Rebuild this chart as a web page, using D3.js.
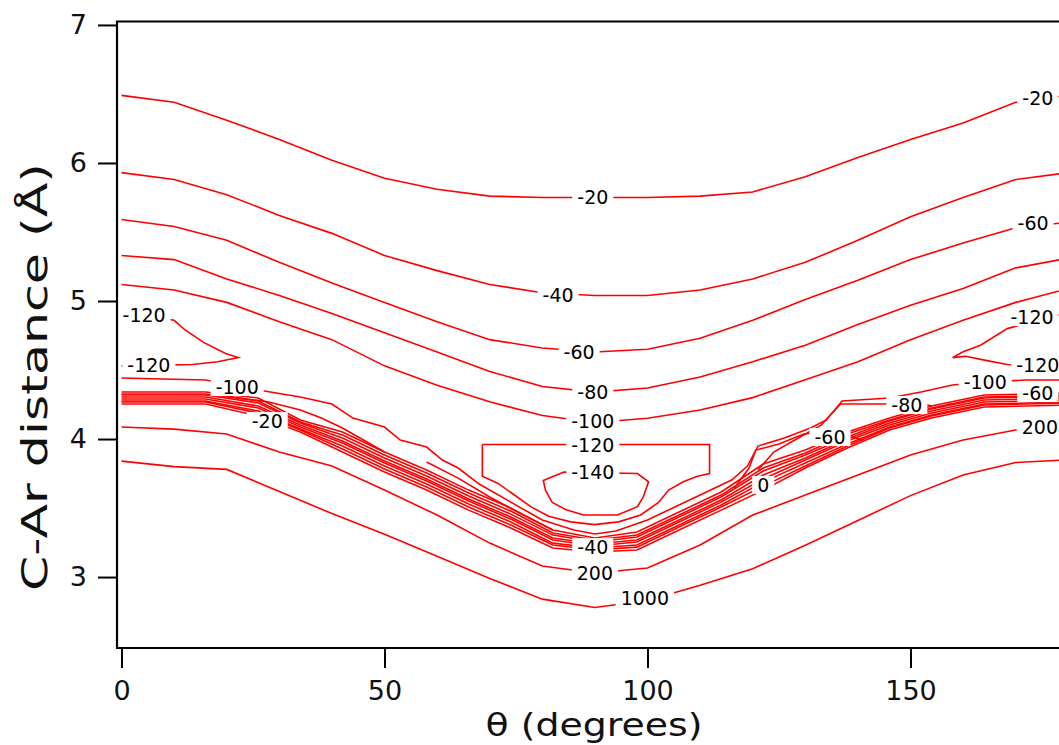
<!DOCTYPE html>
<html>
<head>
<meta charset="utf-8">
<script src="https://cdn.jsdelivr.net/npm/d3@7"></script>
<style>
  html, body { margin: 0; padding: 0; background: #fff; }
  svg { display: block; }
  text { font-family: "DejaVu Sans", sans-serif; }
</style>
</head>
<body>
<svg id="chart" width="1059" height="745"></svg>
<script>
// --- contour data, theta in degrees, r in angstrom ---
const contourTheta = [0, 10, 20, 30, 40, 50, 60, 70, 80, 90, 100, 110, 120, 130, 140, 150, 160, 170, 180];
const rMinus20  = [6.49, 6.44, 6.31, 6.17, 6.02, 5.89, 5.81, 5.76, 5.75, 5.75, 5.75, 5.76, 5.79, 5.90, 6.04, 6.17, 6.29, 6.44, 6.49];
const rMinus40  = [5.93, 5.88, 5.77, 5.62, 5.49, 5.33, 5.22, 5.12, 5.06, 5.04, 5.04, 5.08, 5.16, 5.28, 5.44, 5.61, 5.75, 5.88, 5.93];
const rMinus60  = [5.59, 5.54, 5.44, 5.28, 5.13, 4.99, 4.85, 4.72, 4.66, 4.63, 4.65, 4.73, 4.86, 5.01, 5.15, 5.30, 5.42, 5.53, 5.57];
const rMinus80  = [5.33, 5.30, 5.16, 5.04, 4.91, 4.77, 4.63, 4.49, 4.38, 4.34, 4.37, 4.45, 4.56, 4.68, 4.83, 4.97, 5.09, 5.24, 5.31];
const rMinus100 = [5.12, 5.08, 4.99, 4.85, 4.72, 4.53, 4.39, 4.27, 4.17, 4.12, 4.15, 4.21, 4.30, 4.43, 4.56, 4.72, 4.86, 4.99, 5.09];
const r200      = [4.087, 4.072, 4.036, 3.906, 3.804, 3.630, 3.449, 3.246, 3.080, 3.029, 3.065, 3.232, 3.449, 3.594, 3.739, 3.884, 3.993, 4.065, 4.087];
const r1000     = [3.84, 3.80, 3.78, 3.62, 3.46, 3.31, 3.15, 2.99, 2.84, 2.78, 2.83, 2.94, 3.06, 3.23, 3.41, 3.59, 3.74, 3.83, 3.85];

// dense band of contours along the repulsive wall (-80 ... 100)
const bandTheta = [0, 16, 26, 34, 42, 50, 58, 66, 74, 82, 90, 98, 106, 114, 122, 130, 138, 146, 154, 164, 180];
const band1 = [4.341, 4.341, 4.297, 4.138, 4.051, 3.906, 3.775, 3.630, 3.500, 3.341, 3.283, 3.326, 3.471, 3.616, 3.819, 3.920, 4.051, 4.152, 4.239, 4.319, 4.333];
const band2 = [4.326, 4.326, 4.275, 4.123, 4.029, 3.884, 3.754, 3.609, 3.478, 3.319, 3.268, 3.304, 3.449, 3.594, 3.790, 3.899, 4.036, 4.138, 4.225, 4.304, 4.319];
const band3 = [4.319, 4.319, 4.261, 4.116, 4.007, 3.862, 3.732, 3.587, 3.456, 3.304, 3.254, 3.290, 3.435, 3.580, 3.768, 3.884, 4.014, 4.130, 4.217, 4.297, 4.312];
const band4 = [4.304, 4.304, 4.239, 4.101, 3.986, 3.841, 3.710, 3.565, 3.435, 3.283, 3.239, 3.268, 3.413, 3.558, 3.739, 3.862, 4.000, 4.116, 4.203, 4.283, 4.297];
const band5 = [4.290, 4.290, 4.225, 4.087, 3.971, 3.826, 3.696, 3.551, 3.420, 3.268, 3.225, 3.254, 3.399, 3.543, 3.710, 3.848, 3.986, 4.101, 4.188, 4.268, 4.283];
const band6 = [4.275, 4.275, 4.203, 4.072, 3.949, 3.804, 3.674, 3.529, 3.399, 3.246, 3.210, 3.232, 3.377, 3.522, 3.688, 3.826, 3.964, 4.087, 4.174, 4.254, 4.268];
const band7 = [4.268, 4.268, 4.188, 4.065, 3.928, 3.783, 3.652, 3.507, 3.377, 3.232, 3.196, 3.217, 3.362, 3.507, 3.659, 3.804, 3.949, 4.080, 4.167, 4.246, 4.261];
const band8 = [4.254, 4.254, 4.167, 4.051, 3.906, 3.761, 3.630, 3.485, 3.355, 3.210, 3.181, 3.196, 3.341, 3.485, 3.630, 3.790, 3.935, 4.065, 4.152, 4.232, 4.246];

// irregular contours as [theta, r] pairs
const minus100Lower = [[0, 4.442], [16, 4.428], [26, 4.355], [34, 4.304], [40, 4.254], [44, 4.152], [50, 4.087], [53, 3.993],
  [58, 3.942], [61, 3.848], [64, 3.790], [68, 3.674], [74, 3.543], [80, 3.413], [86, 3.341], [90, 3.312], [94, 3.333],
  [100, 3.413], [106, 3.522], [112, 3.630], [116, 3.703], [119, 3.804], [121, 3.949], [126, 4.007], [131, 4.080],
  [134, 4.138], [137, 4.275], [140, 4.283], [146, 4.297], [152, 4.341], [158, 4.391], [164, 4.413], [172, 4.428], [180, 4.428]];
const fanLeftA = [[20, 4.312], [28, 4.268], [34, 4.210], [38, 4.152], [42, 4.080], [46, 3.993], [50, 3.906]];
const fanLeftB = [[58, 3.833], [64, 3.717], [70, 3.580], [76, 3.456], [82, 3.341]];
const fanRightQ = [[121, 3.775], [124, 3.906], [128, 3.993], [133, 4.101], [136.7, 4.254], [145, 4.254], [150, 4.275], [154, 4.239]];
const fanRightP = [[116.5, 3.645], [119.3, 3.790], [120.6, 3.920], [125, 3.964], [129.7, 4.036], [133, 4.051], [138, 4.022], [141, 3.993]];
const wedgeLeft = [[0, 4.92], [10, 4.86], [12.1, 4.79], [15.6, 4.70], [19.8, 4.62], [22.2, 4.59], [18.3, 4.56], [13.5, 4.54], [0, 4.53]];
const wedgeRight = [[180, 4.92], [168.4, 4.80], [163.3, 4.68], [159.9, 4.63], [158.0, 4.59], [160.5, 4.60], [164.3, 4.57], [168.4, 4.54], [180, 4.53]];
const loopMinus120 = [[68.6, 3.96], [68.6, 3.73], [71.5, 3.68], [74.5, 3.60], [77.8, 3.51], [81.2, 3.44], [85.4, 3.40], [89.9, 3.38],
  [94.5, 3.40], [98.7, 3.45], [102.1, 3.54], [104.0, 3.63], [106.8, 3.69], [109.5, 3.73], [111.8, 3.75], [111.8, 3.96], [68.6, 3.96]];
const loopMinus140 = [[84.0, 3.76], [80.2, 3.70], [80.6, 3.63], [81.9, 3.54], [84.4, 3.49], [87.8, 3.45], [94.3, 3.45],
  [98.1, 3.51], [99.2, 3.58], [100.2, 3.69], [98.1, 3.75], [84.0, 3.76]];

// contour labels
const labelText  = ["-20", "-20", "-40", "-60", "-60", "-80", "-100", "-120", "-140", "-120", "-120", "-120", "-120",
                    "-100", "-20", "-40", "200", "1000", "0", "-60", "-80", "-100", "-60", "200"];
const labelTheta = [89.6, 174.2, 83.0, 87.0, 173.3, 89.6, 89.6, 89.6, 89.6, 4.3, 5.2, 173.1, 174.2,
                    22.0, 27.7, 89.6, 90.0, 99.5, 122.0, 134.7, 149.3, 164.2, 174.2, 174.6];
const labelR     = [5.754, 6.471, 5.043, 4.630, 5.565, 4.341, 4.130, 3.957, 3.761, 4.899, 4.536, 4.884, 4.536,
                    4.377, 4.130, 3.217, 3.029, 2.848, 3.667, 4.015, 4.246, 4.413, 4.333, 4.087];

const xTicks = [0, 50, 100, 150];
const yTicks = [3, 4, 5, 6, 7];

// --- drawing ---
const svg = d3.select("#chart");
const x = d3.scaleLinear().domain([0, 180]).range([121.5, 1068.3]);
const y = d3.scaleLinear().domain([2.486, 7.025]).range([648, 21.5]);

svg.append("defs").append("clipPath").attr("id", "plotClip")
  .append("rect").attr("x", 117).attr("y", 21.5).attr("width", 960).attr("height", 626.5);

const line = d3.line().x(d => x(d[0])).y(d => y(d[1]));
const zip = (ts, rs) => ts.map((t, i) => [t, rs[i]]);

const contours = [
  zip(contourTheta, rMinus20), zip(contourTheta, rMinus40), zip(contourTheta, rMinus60),
  zip(contourTheta, rMinus80), zip(contourTheta, rMinus100), zip(contourTheta, r200), zip(contourTheta, r1000),
  zip(bandTheta, band1), zip(bandTheta, band2), zip(bandTheta, band3), zip(bandTheta, band4),
  zip(bandTheta, band5), zip(bandTheta, band6), zip(bandTheta, band7), zip(bandTheta, band8),
  minus100Lower, fanLeftA, fanLeftB, fanRightQ, fanRightP, wedgeLeft, wedgeRight, loopMinus120, loopMinus140
];

const plot = svg.append("g").attr("clip-path", "url(#plotClip)");
plot.selectAll("path.contour")
  .data(contours)
  .join("path")
  .attr("class", "contour")
  .attr("d", line)
  .attr("fill", "none")
  .attr("stroke", "#ff0000")
  .attr("stroke-width", 1.6);

// labels sit in white gaps cut into the lines
const labels = plot.selectAll("g.lbl")
  .data(labelText.map((t, i) => ({ t: t, th: labelTheta[i], r: labelR[i] })))
  .join("g")
  .attr("class", "lbl")
  .attr("transform", d => `translate(${x(d.th)},${y(d.r)})`);
labels.append("rect").attr("fill", "#fff");
labels.append("text")
  .attr("text-anchor", "middle")
  .attr("dy", "0.36em")
  .attr("font-size", 19)
  .attr("fill", "#000")
  .text(d => d.t);
labels.each(function() {
  const b = d3.select(this).select("text").node().getBBox();
  d3.select(this).select("rect")
    .attr("x", b.x - 5).attr("y", -9).attr("width", b.width + 10).attr("height", 18);
});

// frame
svg.append("path")
  .attr("d", "M1075,21.5 H117 V648 H1075")
  .attr("fill", "none")
  .attr("stroke", "#000")
  .attr("stroke-width", 2.2);

// axes
const yAxis = svg.append("g")
  .attr("transform", "translate(117,0)")
  .call(d3.axisLeft(y).tickValues(yTicks).tickSize(19).tickPadding(11).tickFormat(d3.format("d")));
const xAxis = svg.append("g")
  .attr("transform", "translate(0,648)")
  .call(d3.axisBottom(x).tickValues(xTicks).tickSize(20).tickPadding(13).tickFormat(d3.format("d")));
[yAxis, xAxis].forEach(a => {
  a.select(".domain").remove();
  a.selectAll(".tick line").attr("stroke", "#000").attr("stroke-width", 2);
  a.selectAll(".tick text").attr("fill", "#111").attr("font-size", 27)
    .attr("font-family", "DejaVu Sans, sans-serif");
});

// axis titles
svg.append("text")
  .attr("x", 594).attr("y", 736)
  .attr("text-anchor", "middle")
  .attr("font-size", 32)
  .attr("fill", "#111")
  .attr("textLength", 217)
  .attr("lengthAdjust", "spacingAndGlyphs")
  .text("θ (degrees)");
svg.append("text")
  .attr("transform", "translate(47,377) rotate(-90)")
  .attr("text-anchor", "middle")
  .attr("font-size", 36)
  .attr("fill", "#111")
  .attr("textLength", 428)
  .attr("lengthAdjust", "spacingAndGlyphs")
  .text("C-Ar distance (Å)");
</script>
</body>
</html>
